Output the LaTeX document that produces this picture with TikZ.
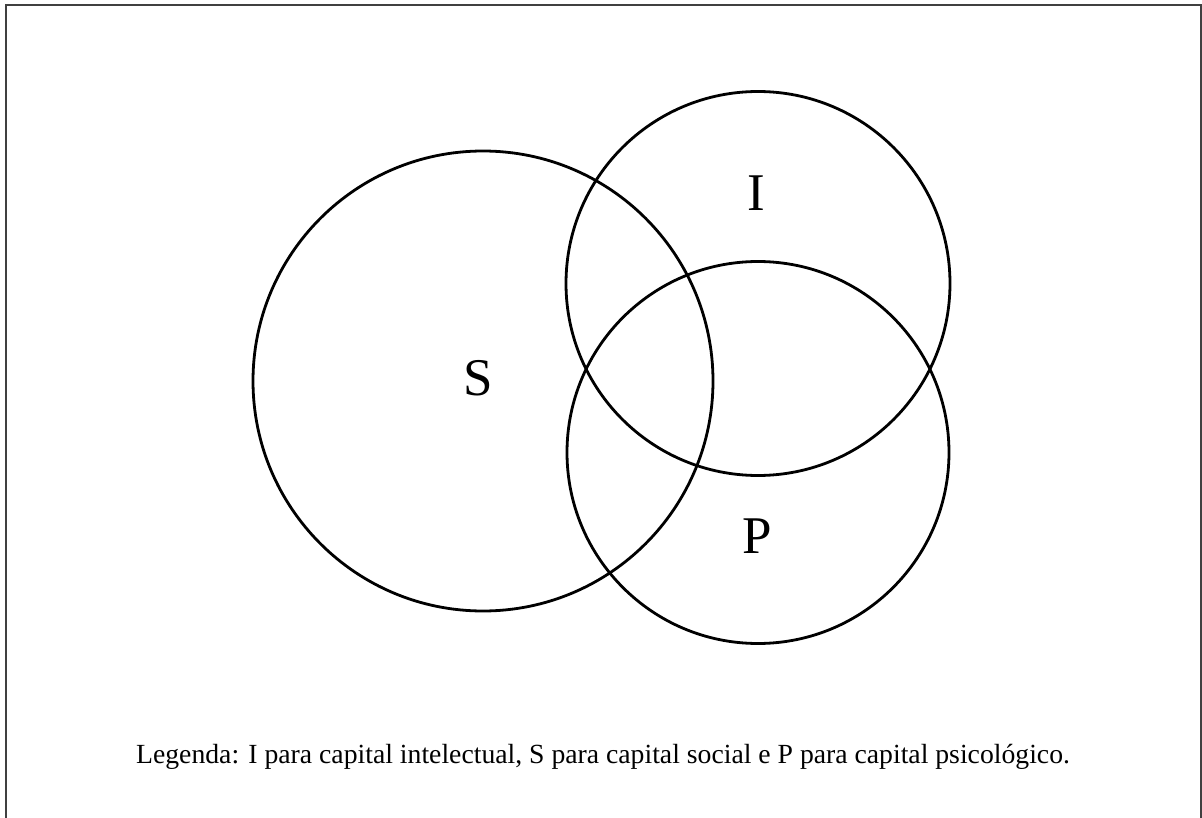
\documentclass[tikz,border=0pt]{standalone}
\usepackage{fontspec}
\setmainfont{Liberation Serif}
\begin{document}
\begin{tikzpicture}[x=1pt,y=-1pt,
  venn/.style={circle,draw=black,line width=2.8pt,inner sep=0pt},
  setlabel/.style={font=\fontsize{53}{60}\selectfont,inner sep=0pt},
  caption/.style={font=\fontsize{27.7}{32}\selectfont,inner sep=0pt,anchor=base}]
\useasboundingbox (0,0) rectangle (1202,818);
\fill[white] (0,0) rectangle (1202,818);
\coordinate (fbl) at (6,830);
\coordinate (ftl) at (6,5);
\coordinate (ftr) at (1201,5);
\coordinate (fbr) at (1201,830);
\draw[line width=2pt,black!75] (fbl) -- (ftl) -- (ftr) -- (fbr);
\node[venn,minimum size=460pt] (S) at (483,381) {};
\node[venn,minimum size=384pt] (I) at (758,283.5) {};
\node[venn,minimum size=382pt] (P) at (758,452.5) {};
\node[setlabel] (lS) at (478,378) {S};
\node[setlabel] (lI) at (756,193) {I};
\node[setlabel] (lP) at (757,536) {P};
\node[caption] (cap) at (603,763) {Legenda: I para capital intelectual, S para capital social e P para capital psicológico.};
\end{tikzpicture}
\end{document}
